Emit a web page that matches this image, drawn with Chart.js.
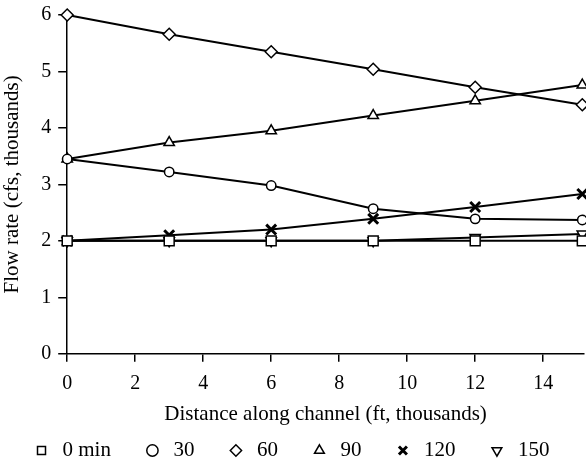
<!DOCTYPE html>
<html>
<head>
<meta charset="utf-8">
<script src="https://cdn.jsdelivr.net/npm/chart.js@4"></script>
<style>
  html, body { margin: 0; padding: 0; background: #fff; }
  #wrap { width: 586px; height: 468px; }
</style>
</head>
<body>
<div id="wrap"><canvas id="flowChart"></canvas></div>
<script>
// distance along channel (ft, thousands)
const distance = [0, 3, 6, 9, 12, 15.15];
const xTicks = [0, 2, 4, 6, 8, 10, 12, 14];

// flow rate (cfs, thousands) for each time
const min0   = [2.0, 2.0, 2.0, 2.0, 2.0, 2.0];
const min30  = [3.45, 3.22, 2.98, 2.57, 2.39, 2.37];
const min60  = [6.0, 5.66, 5.35, 5.04, 4.72, 4.41];
const min90  = [3.45, 3.74, 3.95, 4.22, 4.48, 4.76];
const min120 = [2.0, 2.1, 2.2, 2.39, 2.6, 2.83];
const min150 = [2.0, 2.0, 2.0, 2.0, 2.06, 2.12];

const seriesNames = ["0 min", "30", "60", "90", "120", "150"];
const seriesValues = [min0, min30, min60, min90, min120, min150];
const markers = ["rect", "circle", "rectRot", "triangle", "crossRot", "triangle"];
const markerTurn = [0, 0, 0, 0, 0, 180];
const markerSize = [7, 4.7, 6, 6, 7, 6];

const serif = "'Liberation Serif', 'DejaVu Serif', serif";

const datasets = seriesNames.map((name, i) => ({
  label: name,
  data: distance.map((d, j) => ({ x: d, y: seriesValues[i][j] })),
  borderColor: "#000",
  borderWidth: 2,
  backgroundColor: "#fff",
  pointStyle: markers[i],
  pointRotation: markerTurn[i],
  pointRadius: markerSize[i],
  pointBorderWidth: markers[i] === "crossRot" ? 3 : 1.5,
  pointBackgroundColor: "#fff",
  pointBorderColor: "#000",
  tension: 0,
  clip: false
}));

const ctx = document.getElementById("flowChart").getContext("2d");
new Chart(ctx, {
  type: "line",
  data: { datasets: datasets },
  options: {
    responsive: true,
    maintainAspectRatio: false,
    animation: false,
    layout: { autoPadding: false, padding: { top: 15, right: 2, left: 0, bottom: 0 } },
    plugins: {
      tooltip: { enabled: false },
      legend: {
        position: "bottom",
        align: "start",
        maxHeight: 59,
        labels: {
          usePointStyle: true,
          boxWidth: 21,
          boxHeight: 8,
          padding: 31,
          color: "#000",
          font: { family: serif, size: 21 }
        }
      }
    },
    scales: {
      x: {
        type: "linear",
        min: 0,
        max: 15.2,
        afterBuildTicks: s => { s.ticks = xTicks.map(v => ({ value: v })); },
        afterFit: s => { s.paddingRight = 0; },
        ticks: { color: "#000", padding: 10, maxRotation: 0, font: { family: serif, size: 20 } },
        grid: { drawOnChartArea: false, tickLength: 8, color: "#000", lineWidth: 1.5 },
        border: { color: "#000", width: 1.5 },
        title: { display: true, text: "Distance along channel (ft, thousands)", color: "#000",
                 font: { family: serif, size: 21 }, padding: { top: -4, bottom: -18 } }
      },
      y: {
        min: 0,
        max: 6,
        afterFit: s => { s.paddingTop = 0; },
        ticks: { stepSize: 1, color: "#000", padding: 7, font: { family: serif, size: 20 } },
        grid: { drawOnChartArea: false, tickLength: 9, color: "#000", lineWidth: 1.5 },
        border: { color: "#000", width: 1.5 },
        title: { display: true, text: "Flow rate (cfs, thousands)", color: "#000",
                 font: { family: serif, size: 21 }, padding: { top: 0, bottom: 9 } }
      }
    }
  }
});
</script>
</body>
</html>
